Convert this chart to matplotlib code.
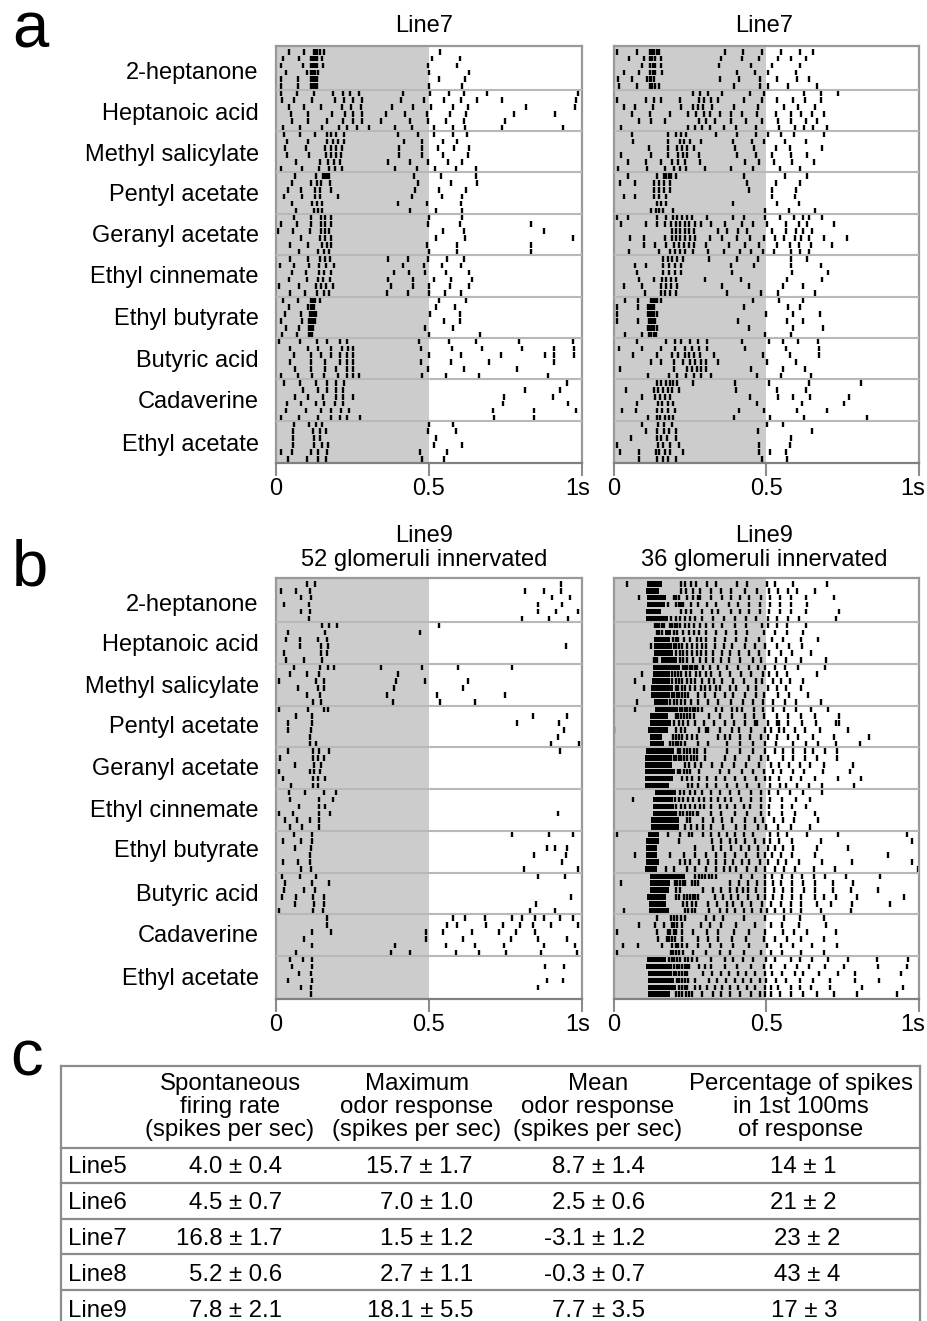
import numpy as np
import matplotlib
matplotlib.use('Agg')
import matplotlib.pyplot as plt
from matplotlib.transforms import ScaledTranslation

plt.rcParams['font.family'] = ['Liberation Sans', 'DejaVu Sans']

odors = ['2-heptanone', 'Heptanoic acid', 'Methyl salicylate', 'Pentyl acetate', 'Geranyl acetate',
         'Ethyl cinnemate', 'Ethyl butyrate', 'Butyric acid', 'Cadaverine', 'Ethyl acetate']

# spike times in ms, 6 trials per odor
a_left = [
    [42,93,123,128,134,144,156,537],
    [24,75,116,122,129,135,150,512,602],
    [18,89,116,122,129,135,153,497,594],
    [32,101,114,122,129,137,501,632],
    [18,73,113,120,127,133,533,618],
    [18,73,114,122,129,135,501,608],
    # heptanoic
    [15,68,123,187,220,242,271,415,504,566,614,690,990],
    [19,60,119,193,223,253,283,410,483,549,606,659,741,983],
    [44,93,146,215,245,278,380,448,507,580,630,819,980],
    [48,106,184,227,253,280,361,422,494,571,622,779,912],
    [51,106,166,220,251,280,344,439,499,557,617,749],
    [24,77,149,206,234,265,304,389,445,517,581,620,741,940],
    # methyl salicylate
    [26,77,128,166,180,195,222,398,465,516,579,625],
    [37,106,168,187,204,222,419,477,548,591],
    [28,98,162,180,198,216,404,477,529,583,631],
    [37,109,163,180,196,214,403,477,547,627],
    [64,144,171,189,209,368,439,499,564,609],
    [15,85,141,172,192,216,390,461,521,589,655],
    # pentyl acetate
    [62,131,153,160,168,175,453,541,655],
    [52,114,133,147,177,465,573,659],
    [39,82,128,144,179,456,534,621],
    [27,85,129,144,203,445,545,608],
    [53,119,133,152,400,493,607],
    [64,123,137,152,437,525,609],
    # geranyl acetate
    [59,113,147,161,179,501,610],
    [16,68,114,147,161,179,498,601,835],
    [8,57,112,146,161,175,546,615,876],
    [82,144,161,181,523,619,972],
    [45,104,150,166,181,493,592,836],
    [75,136,157,175,501,593,836],
    # ethyl cinnemate
    [46,105,144,160,177,367,431,499,560,616],
    [14,59,109,142,164,190,415,484,543,604],
    [51,98,140,157,180,386,436,487,555,632],
    [43,102,136,155,178,366,447,517,572,640],
    [9,74,131,147,163,187,378,447,501,570,631],
    [46,95,133,158,174,363,432,501,553,607],
    # ethyl butyrate
    [24,73,113,120,128,144,534,621],
    [44,106,113,120,126,525,587],
    [30,82,111,118,124,131,504,601],
    [15,86,109,116,122,129,550,601],
    [32,75,109,116,120,487,581],
    [19,68,107,113,119,502,669],
    # butyric acid
    [9,80,134,167,209,232,469,566,655,797,973],
    [45,104,138,181,216,235,253,474,577,675,804,911,974],
    [59,116,148,180,211,233,253,501,607,738,879,910,977],
    [45,113,161,209,233,253,475,573,696,910],
    [63,113,159,196,231,251,498,617,788],
    [17,73,117,158,203,233,251,271,479,555,664,891],
    # cadaverine
    [27,77,132,168,195,223,953],
    [89,136,168,195,220,814,929],
    [63,105,153,195,219,253,746,907],
    [35,81,131,158,193,220,742,955],
    [34,98,146,181,214,238,709,846,983],
    [15,75,136,181,211,232,275,714,844],
    # ethyl acetate
    [60,109,131,152,500,579],
    [55,122,144,164,496,588],
    [57,125,144,525],
    [55,125,149,169,516,608],
    [17,53,113,136,168,470,559],
    [40,102,136,164,477,550],
]

a_right = [
    [13,77,119,126,134,142,149,364,423,485,548,611,652],
    [52,99,120,127,135,154,353,420,476,538,580,631],
    [92,121,129,136,154,344,451,519,610],
    [34,85,121,130,137,159,404,463,506,598],
    [16,62,111,118,124,131,348,410,479,536,601,640],
    [17,77,120,127,135,150,396,479,505,571,666],
    [261,283,308,355,446,493,622,679,735],
    [12,105,132,157,219,279,295,318,341,428,485,536,586,627,680],
    [34,69,130,222,261,277,294,323,395,473,558,603,661],
    [62,121,186,245,271,295,316,349,386,419,469,532,582,613,650,689],
    [85,124,168,281,302,331,386,435,486,537,580,630,667],
    [24,243,268,290,317,362,402,465,543,594,622,652,700],
    [59,177,206,220,237,334,404,467,506,547,590,688],
    [64,179,218,232,249,286,391,453,493,561,629],
    [116,180,209,224,241,264,398,459,531,577,681],
    [24,123,179,210,226,241,281,404,468,519,582,635],
    [48,108,155,190,211,235,283,431,476,524,583,656],
    [15,110,170,198,218,237,301,386,457,546,611],
    [48,141,166,173,181,189,205,427,560,634],
    [22,72,133,149,166,184,436,531,609],
    [132,149,166,184,443,520,598],
    [34,71,133,149,172,520,593],
    [141,156,172,391,536,607],
    [123,138,148,162,194,497,574,661],
    [13,46,144,171,195,209,225,240,258,307,391,426,496,546,590,620,640,681],
    [26,108,143,169,189,203,217,233,247,266,287,319,364,420,458,504,565,606,632,722],
    [191,203,217,233,247,265,342,371,407,436,520,565,596,619,650],
    [55,100,168,190,203,218,233,250,268,317,356,404,448,493,528,559,594,614,639,689,764],
    [100,135,171,198,215,231,247,264,303,379,429,476,535,578,607,647,715],
    [50,148,186,202,217,233,261,308,362,415,449,489,525,582,609,640],
    [162,178,193,208,227,312,405,472,582,635],
    [69,108,163,181,201,220,383,459,581,678],
    [76,163,181,201,220,389,585,701],
    [82,134,159,173,187,205,300,417,567,682],
    [33,92,157,171,188,209,356,444,554,619],
    [102,155,168,184,203,372,484,537,658],
    [38,81,122,129,135,143,155,458,543,619],
    [13,81,114,121,127,134,428,570,609],
    [13,114,121,127,134,142,500,589,677],
    [12,80,117,123,130,137,407,568,619],
    [112,118,125,132,142,444,589,685],
    [38,93,117,123,131,139,496,582],
    [76,171,201,222,251,277,307,419,509,556,603,671],
    [19,94,155,201,233,258,281,307,431,566,674],
    [65,144,190,211,233,247,263,282,328,489,577,674],
    [124,157,198,229,250,268,285,304,343,504,598],
    [22,198,241,257,272,288,303,451,555,626],
    [114,183,209,236,264,288,318,471,547,645],
    [141,157,173,186,195,207,261,398,508,639,811],
    [41,132,147,163,178,192,214,401,534,630],
    [93,137,153,170,186,448,538,588,642,771],
    [76,146,160,177,195,469,616,753],
    [27,75,144,160,177,201,411,493,602,699],
    [113,141,152,168,182,195,395,513,624,831],
    [92,146,166,190,501,556],
    [106,141,165,181,203,474,649],
    [57,141,154,174,205,582],
    [13,146,163,184,215,476,577],
    [20,82,140,150,168,185,226,476,512,564],
    [84,144,163,179,203,487,567],
]

b_left = [
    [101,128,932],
    [15,65,111,816,876,934],
    [81,113,903,962],
    [27,108,858,937],
    [83,111,859,918,989],
    [109,804,893,956],
    [149,174,201,534],
    [38,161,472],
    [33,77,137,166],
    [77,148,171,950],
    [26,147,168],
    [32,93,149],
    [58,145,169,189,343,479,596,773],
    [46,100,141,398],
    [10,131,158,392,488,629],
    [73,139,156,386,613],
    [102,145,363,526,748],
    [122,147,382,537,653],
    [9,106,156,171],
    [66,119,841,954],
    [40,118,789,927],
    [39,116,943],
    [111,923],
    [111,131,901,991],
    [39,120,141,174,930],
    [13,122,136,158],
    [63,126,148],
    [11,111,126,145],
    [24,122,139,162],
    [48,122,136],
    [43,96,156,197],
    [47,142,186],
    [75,142,161],
    [10,56,142,178,924],
    [29,70,110,142],
    [45,84,142],
    [58,117,773,892,972],
    [23,83,117],
    [61,114,887,912,954],
    [112,843,950],
    [24,73,110,935],
    [83,114,812,987],
    [19,80,130,858,946],
    [28,117,173],
    [27,92,128],
    [19,66,120,158,967],
    [61,126,157,851],
    [11,121,155,833,912],
    [168,580,619,683,772,806,849,877,929,971],
    [166,561,592,689,742,799,842,899,989],
    [117,181,492,546,643,729,784,847],
    [92,492,612,768,857,953],
    [117,391,556,650,746,876,980],
    [66,375,438,590,664,753,867,984],
    [45,89,118],
    [53,118,881,942],
    [74,115],
    [38,117,886,940],
    [82,116,858],
    [114],
]

b_right = [
    [44,220,233,255,269,305,334,404,438,503,530,588,700],
    [222,238,260,282,318,352,385,429,470,509,540,570,601,658],
    [82,197,206,214,239,260,275,282,320,354,386,414,445,484,511,545,581,631,722],
    [179,206,214,222,229,253,278,307,337,377,407,444,481,513,545,581,633],
    [222,237,255,290,323,342,383,415,443,478,510,546,581,631,737],
    [187,203,217,234,250,266,290,326,362,397,435,468,505,535,572,608,729],
    [135,143,150,158,166,184,192,200,208,219,233,246,264,282,302,326,356,397,434,485,506,536,569,631],
    [143,150,158,197,209,226,246,263,279,302,334,367,402,437,492,530,569,620],
    [194,203,211,230,251,272,285,302,331,366,400,434,476,520,555,613,671],
    [123,197,205,214,225,241,257,273,290,304,331,362,389,429,462,495,534,573,618],
    [203,217,229,242,257,272,285,302,327,355,380,411,443,476,508,549,583,647],
    [132,138,143,217,229,242,261,283,302,327,351,378,415,457,482,533,566,613,694],
    [226,233,241,250,258,266,274,294,316,342,373,408,443,474,496,529,562,604,693],
    [94,190,201,211,222,237,250,269,284,302,320,348,381,416,451,489,510,536,569,666],
    [70,192,203,214,225,239,253,268,290,312,329,355,391,427,468,487,522,549,577,620],
    [99,203,211,225,233,251,266,288,299,316,334,348,381,402,440,468,506,536,564,613],
    [190,198,207,216,225,233,244,275,299,331,364,391,429,468,493,538,576,637],
    [77,185,197,209,220,233,255,275,310,342,386,424,457,489,522,560,598,678],
    [71,217,225,233,242,251,259,268,277,290,334,355,389,404,419,459,489,522,557,596,648,702],
    [203,211,220,231,240,251,264,312,348,389,429,460,493,536,570,613,661,738],
    [197,214,229,245,268,297,330,364,395,429,464,470,506,535,541,570,618,663,727,738],
    [2,206,220,235,279,302,310,348,389,410,451,497,517,542,557,593,626,677,767],
    [195,203,214,225,239,257,272,342,366,381,414,448,484,506,536,571,604,653,722,835],
    [186,195,203,211,220,233,275,310,373,415,455,497,533,588,629,670,729,808],
    [211,219,230,239,251,264,272,299,373,415,458,497,528,555,588,627,654,692,733],
    [197,205,214,222,231,240,253,264,272,299,366,397,444,484,506,555,588,627,666,731],
    [233,246,268,288,323,355,393,435,476,514,541,574,609,644,688,784],
    [211,219,230,241,251,279,348,377,419,457,493,522,547,589,625,686,773],
    [225,239,257,279,307,337,364,399,430,468,495,511,541,582,615,658,734,809],
    [244,257,277,307,337,373,405,438,476,511,544,566,601,639,683,787],
    [217,231,250,266,290,318,347,380,410,449,482,509,538,577,620,683],
    [64,201,214,228,245,259,279,297,318,342,365,386,417,451,484,513,553,596,644],
    [206,220,233,250,266,282,297,318,348,370,397,428,448,484,508,553,583,629],
    [206,217,228,239,250,261,272,277,320,353,399,438,482,508,553,593,661],
    [239,250,293,326,355,389,429,464,489,525,556,591,669],
    [235,253,273,293,320,358,401,429,473,500,538,581,644],
    [11,179,219,246,257,293,320,344,373,399,428,455,511,538,568,634,735,961],
    [214,323,353,380,402,429,462,493,513,542,583,680,978],
    [267,326,353,384,416,442,473,506,528,555,589,665,767],
    [69,186,231,268,304,334,364,397,435,473,495,519,549,584,658,900],
    [219,233,251,279,310,337,364,391,419,443,478,506,538,566,606,682,780,977],
    [171,197,242,268,304,334,362,381,402,437,468,495,528,558,595,656,726,997],
    [268,280,290,301,312,323,334,416,453,495,520,551,585,618,656,692,762,871],
    [26,200,209,218,227,235,257,268,277,380,410,440,470,495,522,549,585,620,658,718,784],
    [206,217,293,326,353,381,405,424,440,468,495,525,554,585,622,658,718,778,865],
    [206,214,230,239,250,259,268,277,331,358,386,408,440,473,495,522,553,584,615,658,689,729,797,950],
    [228,241,257,271,310,340,370,392,421,451,486,517,547,582,615,667,711,781,904],
    [35,233,244,257,268,312,348,370,397,428,453,484,501,528,558,582,615,680,776],
    [141,188,197,207,220,233,302,329,359,427,495,558,609,688],
    [83,135,166,190,198,207,225,288,315,353,402,464,517,553,606,697],
    [12,141,177,186,197,205,225,261,307,342,395,442,497,556,591,634,727],
    [146,175,183,191,201,223,277,310,342,388,435,492,530,569,615,688],
    [32,79,159,192,203,211,225,240,275,315,351,391,442,504,547,587,651,731],
    [10,187,196,205,214,228,260,304,348,381,427,484,517,553,614,689],
    [181,190,198,209,218,233,244,257,272,318,364,392,423,457,500,528,580,609,651,702,767,864,965],
    [198,207,216,225,233,242,248,281,299,320,364,405,451,493,514,560,602,639,691,754,865,961],
    [197,205,214,223,233,242,293,323,351,378,407,435,462,495,520,552,594,621,673,734,789,940],
    [207,216,225,233,244,266,313,339,369,399,424,451,478,500,531,564,609,653,709,789,869],
    [214,225,233,242,266,283,306,331,355,381,407,437,462,495,514,538,580,609,647,709,814,948],
    [203,214,225,236,246,257,291,326,353,381,415,451,478,495,514,546,582,619,666,722,798,927],
]

# solid bursts in the last panel (start, stop) in ms, None where a trial has none
b_right_bursts = [
    (111,158),(107,149),(109,172),(109,170),(106,155),(107,179),
    None,(168,187),(131,185),(133,190),(133,195),(155,209),
    (129,217),(128,184),(125,184),(124,195),(123,184),(133,179),
    (135,211),(118,179),(120,187),(114,179),(118,158),(118,166),
    (107,197),(104,190),(102,192),(102,200),(104,195),(104,182),
    (135,206),(129,195),(129,197),(129,201),(122,216),(124,216),
    (112,148),(107,148),(105,141),(105,141),(105,149),(104,144),
    (120,233),(119,184),(118,182),(111,171),(116,173),(116,182),
    None,None,None,None,None,None,
    (110,171),(107,190),(112,190),(112,198),(112,206),(112,184),
]

table_head = ['Spontaneous\nfiring rate\n(spikes per sec)', 'Maximum\nodor response\n(spikes per sec)',
              'Mean\nodor response\n(spikes per sec)', 'Percentage of spikes\nin 1st 100ms\nof response']
table_lines = ['Line5', 'Line6', 'Line7', 'Line8', 'Line9']
spont = ['4.0 ± 0.4', '4.5 ± 0.7', '16.8 ± 1.7', '5.2 ± 0.6', '7.8 ± 2.1']
max_resp = ['15.7 ± 1.7', '7.0 ± 1.0', '1.5 ± 1.2', '2.7 ± 1.1', '18.1 ± 5.5']
mean_resp = ['8.7 ± 1.4', '2.5 ± 0.6', '-3.1 ± 1.2', '-0.3 ± 0.7', '7.7 ± 3.5']
pct_first = ['14 ± 1', '21 ± 2', '23 ± 2', '43 ± 4', '17 ± 3']

W, H = 927, 1321
FS = 17
TS = 17.3
fig = plt.figure(figsize=(W / 100, H / 100), dpi=100)


def raster(x0, x1, y0, y1, trials, top_row, row_h, label_y=None, bursts=None, shift_1s=-4):
    ax = fig.add_axes([x0 / W, 1 - y1 / H, (x1 - x0) / W, (y1 - y0) / H])
    ax.axvspan(0, 500, color='#cccccc', lw=0, zorder=0)
    ax.eventplot(trials, lineoffsets=np.arange(len(trials)), linelengths=0.82, linewidths=1.7,
                 colors='k', zorder=2)
    if bursts:
        for k, b in enumerate(bursts):
            if b:
                ax.broken_barh([(b[0], b[1] - b[0])], (k - 0.41, 0.82), color='k', lw=0, zorder=2)
    for k in range(5, 59, 6):
        ax.axhline(k + 0.5, color='#b8b8b8', lw=1.5, zorder=3)
    ax.set_xlim(0, 1000)
    ax.set_ylim((y1 - top_row) / row_h, (y0 - top_row) / row_h)
    ax.set_xticks([0, 500, 1000])
    ax.set_xticklabels(['0', '0.5', '1s'], fontsize=FS)
    ax.tick_params(axis='x', length=9.5, width=1.5, color='#8c8c8c', pad=1.5)
    lab = ax.get_xticklabels()[-1]
    lab.set_transform(lab.get_transform() + ScaledTranslation(shift_1s / 100, 0, fig.dpi_scale_trans))
    if label_y:
        ax.set_yticks([(p - top_row) / row_h for p in label_y])
        ax.set_yticklabels(odors, fontsize=FS)
        ax.tick_params(axis='y', length=0, pad=12.5)
    else:
        ax.set_yticks([])
    for s in ax.spines.values():
        s.set_color('#999999')
        s.set_linewidth(1.6)
    ax.spines['bottom'].set_color('#808080')
    return ax


labels_a = [70, 111, 152, 192, 233, 274, 316, 358, 399, 442]
labels_b = [602, 643, 684, 725, 767, 808, 849, 893, 933, 977]
raster(276, 581.5, 46, 463, a_left, 51.7, 6.9, label_y=labels_a)
raster(613.5, 919, 46, 463, a_right, 51.7, 6.9, shift_1s=-6)
raster(276, 581.5, 577.5, 998.5, b_left, 583.7, 6.96, label_y=labels_b)
raster(613.5, 919, 577.5, 998.5, b_right, 583.7, 6.96, bursts=b_right_bursts, shift_1s=-6)

# overlay in pixel coordinates for titles, panel letters and the table
ov = fig.add_axes([0, 0, 1, 1], zorder=5)
ov.set_xlim(0, W)
ov.set_ylim(H, 0)
ov.axis('off')

ov.text(424, 26, 'Line7', fontsize=FS, ha='center', va='center')
ov.text(764, 26, 'Line7', fontsize=FS, ha='center', va='center')
ov.text(424, 548, 'Line9\n52 glomeruli innervated', fontsize=FS, ha='center', va='center', linespacing=1.12)
ov.text(764, 548, 'Line9\n36 glomeruli innervated', fontsize=FS, ha='center', va='center', linespacing=1.12)

for s, x, y in [('a', 12, 47.5), ('b', 12, 585), ('c', 10, 1075)]:
    ov.text(x, y, s, fontsize=47, ha='left', va='baseline')

t_l, t_r = 61, 920
ov.plot([t_l, t_l], [1065.5, H], color='#8c8c8c', lw=1.6)
ov.plot([t_r, t_r], [1065.5, H], color='#8c8c8c', lw=1.6)
for y in [1065.5, 1148, 1183, 1218.5, 1254, 1290]:
    ov.plot([t_l, t_r], [y, y], color='#8c8c8c', lw=1.6)

for x, head in zip([230, 417, 598, 801], table_head):
    ov.text(x, 1107, head, fontsize=TS, ha='center', va='center', linespacing=1.04)

row_y = [1167, 1203, 1239, 1275, 1311]
pct_x = [803, 803, 807, 807, 804]
for i, y in enumerate(row_y):
    ov.text(68, y, table_lines[i], fontsize=TS, ha='left', va='center')
    ov.text(282, y, spont[i], fontsize=TS, ha='right', va='center')
    ov.text(473, y, max_resp[i], fontsize=TS, ha='right', va='center')
    ov.text(645, y, mean_resp[i], fontsize=TS, ha='right', va='center')
    ov.text(pct_x[i], y, pct_first[i], fontsize=TS, ha='center', va='center')

fig.savefig('out.png', dpi=100)
